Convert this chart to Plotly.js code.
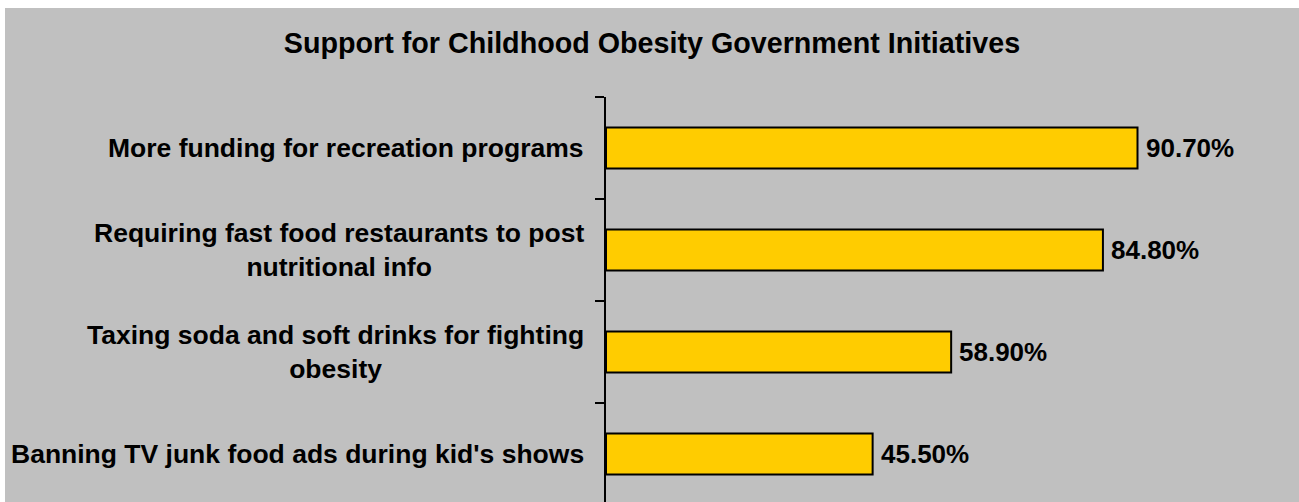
<!DOCTYPE html>
<html>
<head>
<meta charset="utf-8">
<script src="https://cdn.plot.ly/plotly-3.0.1.min.js"></script>
<style>
  html, body { margin: 0; padding: 0; background: #ffffff; overflow: hidden; }
  #chart { position: absolute; left: 5px; top: 8px; width: 1294px; height: 497px; }
</style>
</head>
<body>
<div id="chart"></div>
<script>
// Data (top to bottom)
const categories = [
  "More funding for recreation programs",
  "Requiring fast food restaurants to post<br>nutritional info",
  "Taxing soda and soft drinks for fighting<br>obesity",
  "Banning TV junk food ads during kid's shows"
];
const values = [90.7, 84.8, 58.9, 45.5];
const valueLabels = ["90.70%", "84.80%", "58.90%", "45.50%"];
const chartTitle = "Support for Childhood Obesity Government Initiatives";

const font = "Liberation Sans, Arial, Helvetica, sans-serif";

const trace = {
  type: "bar",
  orientation: "h",
  x: values,
  y: categories,
  width: 0.4,
  marker: { color: "#FFCC00", line: { color: "#000000", width: 2 } },
  hoverinfo: "none"
};

const annotations = [];
categories.forEach((c, i) => {
  annotations.push({
    xref: "paper", yref: "y", x: 0, y: c,
    xanchor: "right", yanchor: "middle",
    xshift: -20, align: "center",
    text: "<b>" + c + "</b>", showarrow: false,
    font: { family: font, size: 26.5, color: "#000000" }
  });
  annotations.push({
    xref: "x", yref: "y", x: values[i], y: c,
    xanchor: "left", yanchor: "middle",
    xshift: 6,
    text: "<b>" + valueLabels[i] + "</b>", showarrow: false,
    font: { family: font, size: 26, color: "#000000" }
  });
});

const layout = {
  width: 1294, height: 497,
  margin: { l: 601, r: 107, t: 89, b: 0, pad: 0 },
  paper_bgcolor: "#C0C0C0",
  plot_bgcolor: "#C0C0C0",
  showlegend: false,
  title: {
    text: "<b>" + chartTitle + "</b>",
    x: 0.5, xanchor: "center",
    y: 0.93, yanchor: "middle",
    font: { family: font, size: 28.7, color: "#000000" }
  },
  xaxis: {
    range: [0, 100], visible: false, showgrid: false, zeroline: false
  },
  yaxis: {
    type: "category",
    categoryorder: "array", categoryarray: categories,
    range: [3.5, -0.5],
    showline: true, linecolor: "#000000", linewidth: 2,
    ticks: "outside", tickson: "boundaries", ticklen: 9, tickwidth: 2, tickcolor: "#000000",
    showticklabels: false, showgrid: false, zeroline: false
  },
  annotations: annotations
};

Plotly.newPlot("chart", [trace], layout, { displayModeBar: false, staticPlot: true });
</script>
</body>
</html>
